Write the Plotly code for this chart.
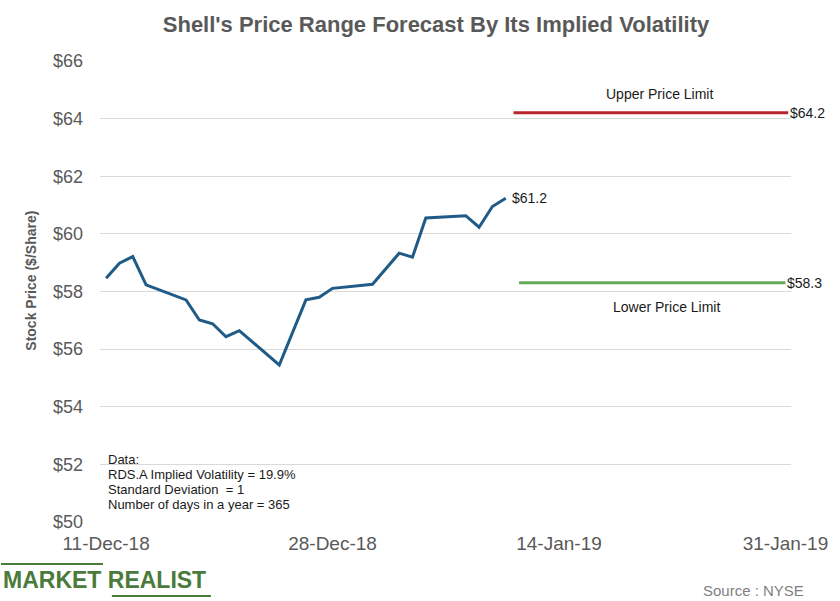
import plotly.graph_objects as go

# ---- data ----
price_dates = ["2018-12-11", "2018-12-12", "2018-12-13", "2018-12-14", "2018-12-17",
               "2018-12-18", "2018-12-19", "2018-12-20", "2018-12-21", "2018-12-24",
               "2018-12-26", "2018-12-27", "2018-12-28", "2018-12-31", "2019-01-02",
               "2019-01-03", "2019-01-04", "2019-01-07", "2019-01-08", "2019-01-09",
               "2019-01-10"]
price_values = [58.46, 58.98, 59.21, 58.23, 57.71, 57.01, 56.88, 56.43, 56.64, 55.45,
                57.71, 57.80, 58.11, 58.25, 59.33, 59.19, 60.55, 60.63, 60.23, 60.95,
                61.24]
upper_dates = ["2019-01-10 14:00", "2019-01-31 05:00"]
upper_values = [64.2, 64.2]
lower_dates = ["2019-01-11", "2019-01-31"]
lower_values = [58.3, 58.3]

x_tick_vals = ["2018-12-11", "2018-12-28", "2019-01-14", "2019-01-31"]
x_tick_text = ["11-Dec-18", "28-Dec-18", "14-Jan-19", "31-Jan-19"]
y_tick_vals = [50, 52, 54, 56, 58, 60, 62, 64, 66]
y_tick_text = ["$50", "$52", "$54", "$56", "$58", "$60", "$62", "$64", "$66"]

data_notes = ["Data:", "RDS.A Implied Volatility = 19.9%",
              "Standard Deviation  = 1", "Number of days in a year = 365"]

FONT = "Liberation Sans, Arial, sans-serif"
GRAY = "#595959"

fig = go.Figure()
fig.add_trace(go.Scatter(x=price_dates, y=price_values, mode="lines",
                         line=dict(color="#1f5b86", width=3), showlegend=False))
fig.add_trace(go.Scatter(x=upper_dates, y=upper_values, mode="lines",
                         line=dict(color="#b9252d", width=3), showlegend=False))
fig.add_trace(go.Scatter(x=lower_dates, y=lower_values, mode="lines",
                         line=dict(color="#65a857", width=3), showlegend=False))

L, R, T, B = 100, 42, 61, 79
W, H = 840, 601
pw, ph = W - L - R, H - T - B


def px(xp):
    return (xp - L) / pw


def py(yp):
    return (H - B - yp) / ph


annotations = []
# end labels
annotations.append(dict(x=price_dates[-1], y=price_values[-1], xref="x", yref="y",
                        text="$" + f"{price_values[-1]:.1f}", showarrow=False,
                        xanchor="left", yanchor="middle", xshift=4,
                        font=dict(size=14, color="#1a1a1a", family=FONT)))
annotations.append(dict(x=upper_dates[-1], y=upper_values[-1], xref="x", yref="y",
                        text="$" + f"{upper_values[-1]:.1f}", showarrow=False,
                        xanchor="left", yanchor="middle", xshift=0,
                        font=dict(size=14, color="#1a1a1a", family=FONT)))
annotations.append(dict(x=lower_dates[-1], y=lower_values[-1], xref="x", yref="y",
                        text="$" + f"{lower_values[-1]:.1f}", showarrow=False,
                        xanchor="left", yanchor="middle", xshift=0,
                        font=dict(size=14, color="#1a1a1a", family=FONT)))
annotations.append(dict(x=px(665), y=py(94), xref="paper", yref="paper",
                        text="Upper Price Limit", showarrow=False,
                        xanchor="center", yanchor="middle",
                        font=dict(size=14, color="#1a1a1a", family=FONT)))
annotations.append(dict(x=px(672), y=py(307), xref="paper", yref="paper",
                        text="Lower Price Limit", showarrow=False,
                        xanchor="center", yanchor="middle",
                        font=dict(size=14, color="#1a1a1a", family=FONT)))
for i, line in enumerate(data_notes):
    annotations.append(dict(x=px(106), y=py(459 + i * 15.3), xref="paper", yref="paper",
                            text=line, showarrow=False, xanchor="left", yanchor="middle",
                            font=dict(size=13, color="#1a1a1a", family=FONT)))
# y axis title
annotations.append(dict(x=px(30), y=py(281), xref="paper", yref="paper",
                        text="<b>Stock Price ($/Share)</b>", showarrow=False, textangle=-90,
                        xanchor="center", yanchor="middle",
                        font=dict(size=14, color=GRAY, family=FONT)))
# source
annotations.append(dict(x=px(813), y=py(590), xref="paper", yref="paper",
                        text="Source : NYSE", showarrow=False, xanchor="right", yanchor="middle",
                        font=dict(size=15, color="#7f7f7f", family=FONT)))
# logo
annotations.append(dict(x=px(0), y=py(580), xref="paper", yref="paper",
                        text="<b>MARKET REALIST</b>", showarrow=False, xanchor="left",
                        yanchor="middle",
                        font=dict(size=23, color="#4a7a3c", family=FONT)))

shapes = [
    dict(type="line", xref="paper", yref="paper", x0=px(0), x1=px(103), y0=py(564), y1=py(564),
         line=dict(color="#4a7a3c", width=2)),
    dict(type="line", xref="paper", yref="paper", x0=px(112), x1=px(212), y0=py(596), y1=py(596),
         line=dict(color="#4a7a3c", width=2)),
]

fig.update_layout(
    width=W, height=H,
    margin=dict(l=L, r=R, t=T, b=B),
    paper_bgcolor="white", plot_bgcolor="white",
    font=dict(family=FONT, color=GRAY),
    title=dict(text="<b>Shell's Price Range Forecast By Its Implied Volatility</b>",
               x=436 / W, xanchor="center", y=1 - 24 / H, yanchor="middle",
               font=dict(size=22, color=GRAY, family=FONT)),
    xaxis=dict(type="date", range=["2018-12-10 13:00", "2019-01-31 10:00"],
               tickmode="array", tickvals=x_tick_vals, ticktext=x_tick_text,
               showgrid=False, zeroline=False, showline=False,
               tickfont=dict(size=19, color=GRAY, family=FONT), ticks="", ticklabelstandoff=8),
    yaxis=dict(range=[50, 66], tickmode="array", tickvals=y_tick_vals, ticktext=y_tick_text,
               showgrid=True, gridcolor="#d9d9d9", gridwidth=1, zeroline=False, showline=False,
               tickfont=dict(size=18, color=GRAY, family=FONT), ticks="", ticklabelstandoff=16),
    annotations=annotations,
    shapes=shapes,
)

fig.write_html("out.html", config={"displayModeBar": False},
               post_script="document.body.style.margin='0';document.body.style.overflow='hidden';")
